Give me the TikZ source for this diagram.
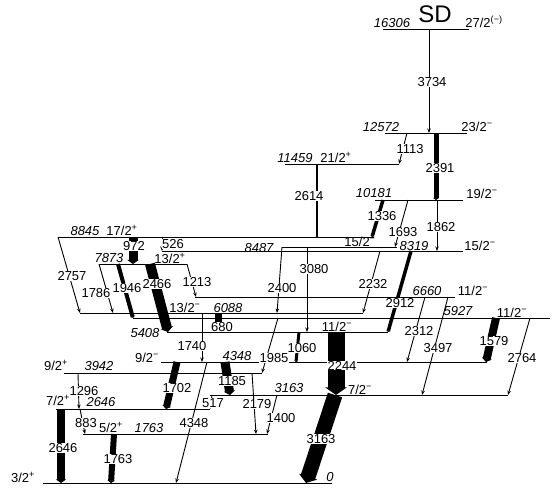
\documentclass[tikz,border=0pt]{standalone}
\usepackage{fontspec}
\setmainfont{Liberation Sans}
\usetikzlibrary{arrows.meta}

\begin{document}
\begin{tikzpicture}[
    x=1pt, y=-1pt,
    font=\fontsize{13}{15}\selectfont,
    lvline/.style={line width=1pt},
    gline/.style={line width=0.9pt, -{Stealth[length=4.5pt, width=3.5pt]}},
    gbar/.style={-{Triangle[length=0pt 0.45, width=0pt 1.25]}},
    elab/.style={anchor=base, inner sep=0pt, font=\fontsize{13}{15}\selectfont\itshape},
    jlab/.style={anchor=base, inner sep=0pt},
    glab/.style={anchor=base, fill=white, inner sep=0.4pt}
]
\useasboundingbox (0,0) rectangle (559,491);

% Levels
\draw[lvline] (383,29) coordinate (L16306) -- (469,29);
\draw[lvline] (385,133) coordinate (L12572) -- (467,133);
\draw[lvline] (285,164) coordinate (L11459) -- (399,164);
\draw[lvline] (375,200) coordinate (L10181) -- (463,200);
\draw[lvline] (58,237) coordinate (L8845) -- (374,237);
\draw[lvline] (282,247) coordinate (L8487) -- (397,247);
\draw[lvline] (162,251) coordinate (L8319) -- (463,251);
\draw[lvline] (99,264) coordinate (L7873) -- (187,264);
\draw[lvline] (195,297) coordinate (L6660) -- (455,297);
\draw[lvline] (80,313) coordinate (L6088) -- (363,313);
\draw[lvline] (133,318) coordinate (L5927) -- (550,318);
\draw[lvline] (167,332) coordinate (L5408) -- (388,332);
\draw[lvline] (161,362) coordinate (L4348) -- (487,362);
\draw[lvline] (64,373) coordinate (L3942) -- (262,373);
\draw[lvline] (210,395) coordinate (L3163) -- (508,395);
\draw[lvline] (56,409) coordinate (L2646) -- (210,409);
\draw[lvline] (83,434) coordinate (L1763) -- (268,434);
\draw[lvline] (43,483) coordinate (L0) -- (332,483);

% Thin transitions
\draw[gline] (429,0 |- L16306) -- (429,0 |- L12572);
\draw[gline] (407,0 |- L12572) -- (399,0 |- L11459);
\draw[gline] (408,0 |- L10181) -- (395,0 |- L8487);
\draw[gline] (437,0 |- L10181) -- (437,0 |- L8319);
\draw[gline] (162,0 |- L8845) -- (162,0 |- L8319);
\draw[gline] (58,0 |- L8845) -- (80,0 |- L6088);
\draw[gline] (99,0 |- L7873) -- (113,0 |- L6088);
\draw[gline] (187,0 |- L7873) -- (196,0 |- L6660);
\draw[gline] (282,0 |- L8487) -- (277,0 |- L6088);
\draw[gline] (307,0 |- L8487) -- (307,0 |- L5408);
\draw[gline] (380,0 |- L8319) -- (363,0 |- L6088);
\draw[gline] (202,0 |- L6088) -- (202,0 |- L4348);
\draw[gline] (425,0 |- L6660) -- (407,0 |- L4348);
\draw[gline] (448,0 |- L6660) -- (422,0 |- L3163);
\draw[gline] (278,0 |- L5927) -- (262,0 |- L3942);
\draw[gline] (530,0 |- L5927) -- (508,0 |- L3163);
\draw[gline] (207,0 |- L4348) -- (176,0 |- L0);
\draw[gline] (78,0 |- L3942) -- (79,0 |- L2646);
\draw[gline] (252,0 |- L3942) -- (256,0 |- L1763);
\draw[gline] (212,0 |- L3163) -- (210,0 |- L2646);
\draw[gline] (277,0 |- L3163) -- (267,0 |- L1763);
\draw[gline] (80,0 |- L2646) -- (85,0 |- L1763);

% Strong transitions
\draw[gbar, line width=5pt] (436,0 |- L12572) -- (436,0 |- L10181);
\draw[gbar, line width=2pt] (317,0 |- L11459) -- (317,0 |- L8845);
\draw[gbar, line width=3.5pt] (383,0 |- L10181) -- (372,0 |- L8845);
\draw[gbar, line width=9pt] (133,0 |- L8845) -- (133,0 |- L7873);
\draw[gbar, line width=4pt] (118,0 |- L7873) -- (133,0 |- L5927);
\draw[gbar, line width=10pt] (150,0 |- L7873) -- (168,0 |- L5408);
\draw[gbar, line width=3.5pt] (411,0 |- L8319) -- (388,0 |- L5408);
\draw[gbar, line width=7pt] (218,0 |- L6088) -- (218,0 |- L5408);
\draw[gbar, line width=8pt] (496,0 |- L5927) -- (486,0 |- L4348);
\draw[gbar, line width=3pt] (299,0 |- L5408) -- (296,0 |- L4348);
\draw[gbar, line width=17pt] (336,0 |- L5408) -- (336,0 |- L3163);
\draw[gbar, line width=7pt] (177,0 |- L4348) -- (166,0 |- L2646);
\draw[gbar, line width=9pt] (225,0 |- L4348) -- (230,0 |- L3163);
\draw[gbar, line width=8pt] (61,0 |- L2646) -- (61,0 |- L0);
\draw[gbar, line width=6pt] (114,0 |- L1763) -- (111,0 |- L0);
\draw[gbar, line width=15pt] (335,0 |- L3163) -- (306,0 |- L0);

% Level energies and spins
\node[anchor=base, inner sep=0pt, font=\fontsize{24}{26}\selectfont] (sd) at (435,22) {SD};
\node[elab] (e16306) at (392,27) {16306};
\node[jlab] (j16306) at (484,27) {27/2\textsuperscript{(−)}};
\node[elab] (e12572) at (381,131) {12572};
\node[jlab] (j12572) at (477,131) {23/2\textsuperscript{−}};
\node[elab] (e11459) at (295,162) {11459};
\node[jlab] (j11459) at (336,162) {21/2\textsuperscript{+}};
\node[elab] (e10181) at (374,197) {10181};
\node[jlab] (j10181) at (482,198) {19/2\textsuperscript{−}};
\node[elab] (e8845) at (85,235) {8845};
\node[jlab] (j8845) at (122,235) {17/2\textsuperscript{+}};
\node[elab] (e8487) at (259,252) {8487};
\node[jlab] (j8487) at (360,246) {15/2\textsuperscript{−}};
\node[elab] (e8319) at (414,250) {8319};
\node[jlab] (j8319) at (480,250) {15/2\textsuperscript{−}};
\node[elab] (e7873) at (109,262) {7873};
\node[jlab] (j7873) at (170,263) {13/2\textsuperscript{+}};
\node[elab] (e6660) at (427,295) {6660};
\node[jlab] (j6660) at (473,295) {11/2\textsuperscript{−}};
\node[jlab] (j6088) at (185,312) {13/2\textsuperscript{−}};
\node[elab] (e6088) at (228,312) {6088};
\node[elab] (e5927) at (458,315) {5927};
\node[jlab] (j5927) at (512,317) {11/2\textsuperscript{−}};
\node[elab] (e5408) at (145,337) {5408};
\node[jlab] (j5408) at (337,331) {11/2\textsuperscript{−}};
\node[jlab] (j4348) at (147,362) {9/2\textsuperscript{−}};
\node[elab] (e4348) at (237,360) {4348};
\node[jlab] (j3942) at (56,370) {9/2\textsuperscript{+}};
\node[elab] (e3942) at (99,370) {3942};
\node[elab] (e3163) at (289,392) {3163};
\node[jlab] (j3163) at (360,394) {7/2\textsuperscript{−}};
\node[jlab] (j2646) at (58,405) {7/2\textsuperscript{+}};
\node[elab] (e2646) at (101,406) {2646};
\node[jlab] (j1763) at (111,432) {5/2\textsuperscript{+}};
\node[elab] (e1763) at (149,432) {1763};
\node[jlab] (j0) at (23,482) {3/2\textsuperscript{+}};
\node[elab] (e0) at (330,481) {0};

% Gamma energies
\node[glab] (g3734) at (432,86) {3734};
\node[glab] (g1113) at (410,153) {1113};
\node[glab] (g2391) at (440,172) {2391};
\node[glab] (g2614) at (309,200) {2614};
\node[glab] (g1336) at (382,220) {1336};
\node[glab] (g1693) at (403,236) {1693};
\node[glab] (g1862) at (441,231) {1862};
\node[glab] (g526) at (173,248) {526};
\node[glab] (g972) at (134,250) {972};
\node[glab] (g2757) at (72,280) {2757};
\node[glab] (g1786) at (96,297) {1786};
\node[glab] (g1946) at (127,292) {1946};
\node[glab] (g2466) at (157,288) {2466};
\node[glab] (g1213) at (197,286) {1213};
\node[glab] (g2400) at (282,292) {2400};
\node[glab] (g3080) at (314,273) {3080};
\node[glab] (g2232) at (373,288) {2232};
\node[glab] (g2912) at (400,307) {2912};
\node[glab] (g680) at (222,331) {680};
\node[glab] (g1740) at (192,350) {1740};
\node[glab] (g2312) at (419,335) {2312};
\node[glab] (g3497) at (438,352) {3497};
\node[glab] (g1985) at (274,362) {1985};
\node[glab] (g1579) at (494,345) {1579};
\node[glab] (g2764) at (522,362) {2764};
\node[glab] (g1060) at (302,352) {1060};
\node[glab] (g2244) at (342,370) {2244};
\node[glab] (g1702) at (177,392) {1702};
\node[glab] (g4348) at (194,427) {4348};
\node[glab] (g1185) at (232,385) {1185};
\node[glab] (g1296) at (84,395) {1296};
\node[glab] (g2179) at (257,408) {2179};
\node[glab] (g517) at (213,407) {517};
\node[glab] (g1400) at (281,422) {1400};
\node[glab] (g883) at (86,427) {883};
\node[glab] (g2646) at (63,452) {2646};
\node[glab] (g1763) at (118,463) {1763};
\node[glab] (g3163) at (321,443) {3163};

\end{tikzpicture}
\end{document}
